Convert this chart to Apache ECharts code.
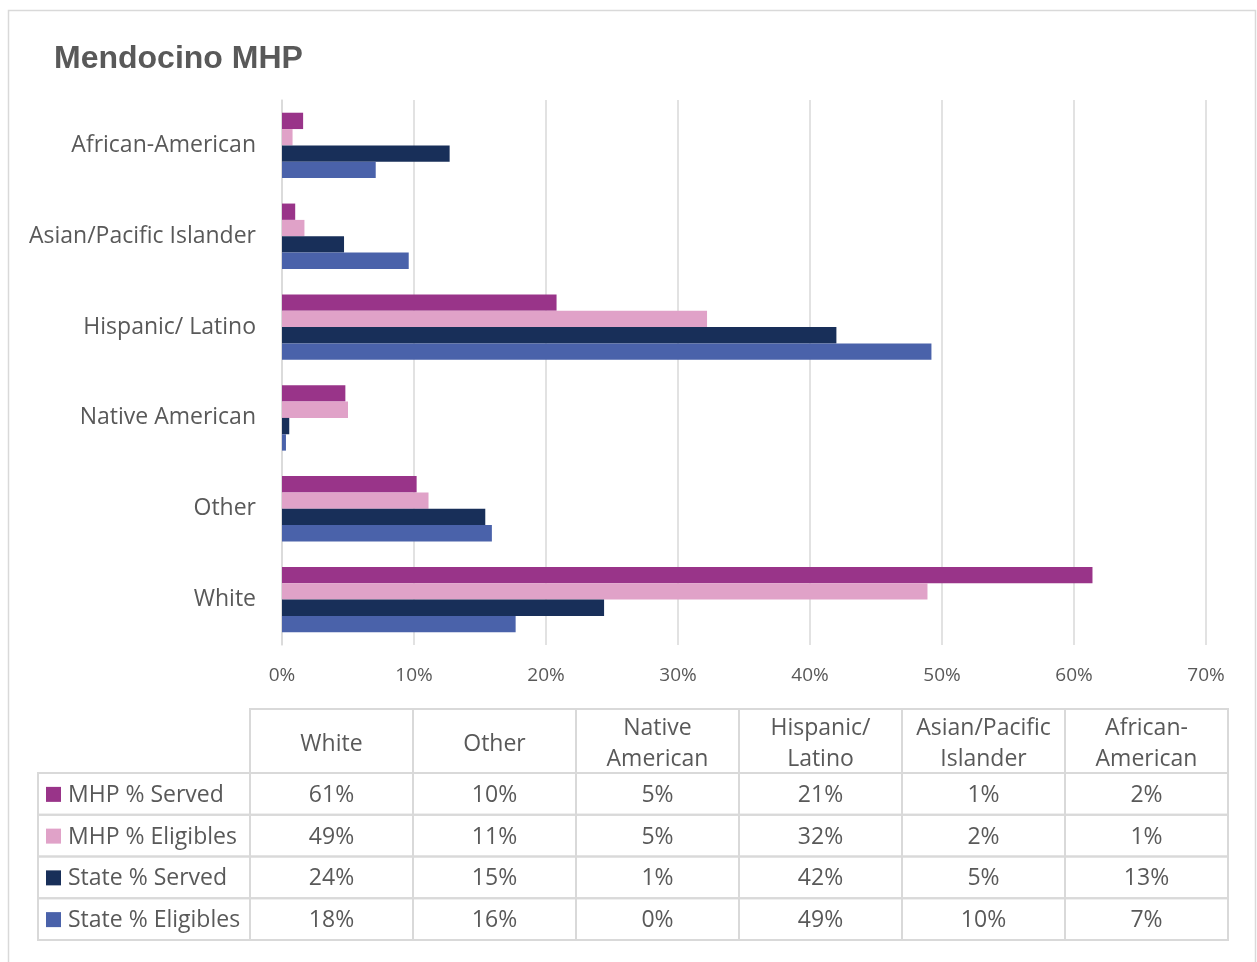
<!DOCTYPE html>
<html>
<head>
<meta charset="utf-8">
<script src="https://cdn.jsdelivr.net/npm/echarts@6/dist/echarts.min.js"></script>
<style>
html,body{margin:0;padding:0;background:#fff;}
#chart{width:1257px;height:962px;}
</style>
</head>
<body>
<div id="chart"></div>
<script>
// ---- data ----
const categories = ['White', 'Other', 'Native American', 'Hispanic/ Latino', 'Asian/Pacific Islander', 'African-American'];
const tableHeaders = ['White', 'Other', 'Native\nAmerican', 'Hispanic/\nLatino', 'Asian/Pacific\nIslander', 'African-\nAmerican'];
const seriesNames = ['MHP % Served', 'MHP % Eligibles', 'State % Served', 'State % Eligibles'];
const seriesColors = ['#993489', '#e0a2c8', '#182f59', '#4a62aa'];
const mhpServed    = [61.4, 10.2, 4.8, 20.8, 1.0, 1.6];
const mhpEligibles = [48.9, 11.1, 5.0, 32.2, 1.7, 0.8];
const stateServed  = [24.4, 15.4, 0.55, 42.0, 4.7, 12.7];
const stateEligibles = [17.7, 15.9, 0.3, 49.2, 9.6, 7.1];
const xTicks = [0, 10, 20, 30, 40, 50, 60, 70];

const seriesValues = [mhpServed, mhpEligibles, stateServed, stateEligibles];

// ---- layout ----
const FONT = '"Open Sans", sans-serif';
const TXT = '#595959';
const LINE = '#d9d9d9';
const tblLeft = 38, colX0 = 250, colW = 163, hdrTop = 709, hdrH = 64, rowH = 41.75;
const TFS = 23;

const chart = echarts.init(document.getElementById('chart'), null, {renderer: 'canvas'});

const graphics = [];
// outer border
graphics.push({type: 'rect', shape: {x: 8.5, y: 10.5, width: 1247, height: 960}, style: {fill: 'none', stroke: LINE, lineWidth: 1.5}, silent: true});
// header cells
tableHeaders.forEach((h, i) => {
  const x = colX0 + i * colW;
  graphics.push({type: 'rect', shape: {x: x, y: hdrTop, width: colW, height: hdrH}, style: {fill: 'none', stroke: LINE, lineWidth: 2}});
  graphics.push({type: 'text', x: x + colW / 2, y: hdrTop + hdrH / 2 + 3, style: {text: h, font: TFS + 'px ' + FONT, fill: TXT, align: 'center', verticalAlign: 'middle', lineHeight: 31}});
});
// rows
seriesNames.forEach((name, r) => {
  const y = hdrTop + hdrH + r * rowH;
  graphics.push({type: 'rect', shape: {x: tblLeft, y: y, width: colX0 - tblLeft, height: rowH}, style: {fill: 'none', stroke: LINE, lineWidth: 2}});
  graphics.push({type: 'rect', shape: {x: 46, y: y + rowH / 2 - 7, width: 15, height: 15}, style: {fill: seriesColors[r]}});
  graphics.push({type: 'text', x: 68, y: y + rowH / 2 + 1.5, style: {text: name, font: TFS + 'px ' + FONT, fill: TXT, align: 'left', verticalAlign: 'middle'}});
  categories.forEach((c, i) => {
    const x = colX0 + i * colW;
    graphics.push({type: 'rect', shape: {x: x, y: y, width: colW, height: rowH}, style: {fill: 'none', stroke: LINE, lineWidth: 2}});
    graphics.push({type: 'text', x: x + colW / 2, y: y + rowH / 2 + 1.5, style: {text: Math.round(seriesValues[r][i]) + '%', font: TFS + 'px ' + FONT, fill: TXT, align: 'center', verticalAlign: 'middle'}});
  });
});

const option = {
  backgroundColor: '#fff',
  animation: false,
  title: {
    text: 'Mendocino MHP', left: 49, top: 38,
    textStyle: {fontFamily: '"Liberation Sans", Arial, sans-serif', fontWeight: 'bold', fontSize: 32, color: TXT}
  },
  grid: {left: 282, right: 51, top: 100, bottom: 317, containLabel: false},
  xAxis: {
    type: 'value', min: 0, max: 70, interval: 10,
    axisLine: {show: false}, axisTick: {show: false},
    splitLine: {show: true, lineStyle: {color: LINE, width: 1.5}},
    axisLabel: {formatter: '{value}%', color: TXT, fontSize: 19, fontFamily: FONT, margin: 21}
  },
  yAxis: {
    type: 'category', data: categories,
    axisLine: {show: true, lineStyle: {color: LINE, width: 1.5}}, axisTick: {show: false},
    axisLabel: {color: TXT, fontSize: 23, fontFamily: FONT, margin: 26}
  },
  series: seriesNames.map((n, i) => ({
    name: n, type: 'bar', data: seriesValues[i],
    barGap: '0%', barCategoryGap: '28%',
    itemStyle: {color: seriesColors[i]}
  })),
  graphic: graphics
};
chart.setOption(option);
</script>
</body>
</html>
